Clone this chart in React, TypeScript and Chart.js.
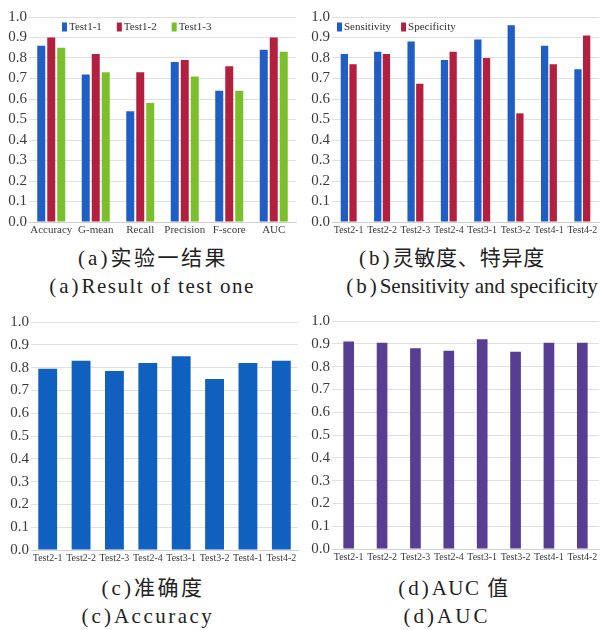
import React, { useEffect, useRef } from "react";
import { Chart, registerables } from "chart.js";

Chart.register(...registerables);

// ---------- data ----------
const metricLabels = ["Accuracy", "G-mean", "Recall", "Precision", "F-score", "AUC"];
const test1_1 = [0.86, 0.72, 0.54, 0.78, 0.64, 0.84];
const test1_2 = [0.9, 0.82, 0.73, 0.79, 0.76, 0.9];
const test1_3 = [0.85, 0.73, 0.58, 0.71, 0.64, 0.83];

const testLabels = ["Test2-1", "Test2-2", "Test2-3", "Test2-4", "Test3-1", "Test3-2", "Test4-1", "Test4-2"];
const sensitivity = [0.82, 0.83, 0.88, 0.79, 0.89, 0.96, 0.86, 0.745];
const specificity = [0.77, 0.82, 0.675, 0.83, 0.8, 0.53, 0.77, 0.91];
const accuracyValues = [0.795, 0.83, 0.785, 0.82, 0.85, 0.75, 0.82, 0.83];
const aucValues = [0.91, 0.905, 0.88, 0.87, 0.92, 0.865, 0.905, 0.905];

const SERIF = '"Liberation Serif", "DejaVu Serif", serif';
const CAPTION_FONT = '"Liberation Serif", "DejaVu Serif", "Noto Sans CJK SC", serif';

function insideLegend(offsetX: number, offsetY: number, gap: number, fontSize: number) {
  return {
    id: "insideLegend",
    afterDraw(chart: any) {
      const ctx = chart.ctx;
      const area = chart.chartArea;
      ctx.save();
      ctx.font = `${fontSize}px ${SERIF}`;
      ctx.textBaseline = "middle";
      ctx.textAlign = "left";
      let x = area.left + offsetX;
      const y = area.top + offsetY;
      chart.data.datasets.forEach((ds: any) => {
        ctx.fillStyle = ds.backgroundColor;
        ctx.fillRect(x, y - 4.5, 5, 9);
        x += 7;
        ctx.fillStyle = "#333";
        ctx.fillText(ds.label, x, y);
        x += ctx.measureText(ds.label).width + gap;
      });
      ctx.restore();
    },
  };
}

type Cfg = {
  labels: string[];
  datasets: any[];
  yWidth: number;
  xHeight: number;
  padTop: number;
  padRight: number;
  catPct: number;
  barPct: number;
  xFont: number;
  legend?: any;
};

function makeConfig(c: Cfg): any {
  return {
    type: "bar",
    data: {
      labels: c.labels,
      datasets: c.datasets.map((d) => ({
        ...d,
        categoryPercentage: c.catPct,
        barPercentage: c.barPct,
        borderWidth: 0,
      })),
    },
    plugins: c.legend ? [c.legend] : [],
    options: {
      animation: false,
      responsive: false,
      devicePixelRatio: 1,
      layout: { padding: { top: c.padTop, right: c.padRight, left: 0, bottom: 0 } },
      plugins: {
        legend: { display: false },
        tooltip: { enabled: false },
        title: { display: false },
      },
      scales: {
        x: {
          ticks: {
            autoSkip: false,
            maxRotation: 0,
            minRotation: 0,
            font: { family: SERIF, size: c.xFont },
            color: "#3a3a3a",
            padding: 2,
          },
          grid: { display: false, drawTicks: false },
          border: { display: true, color: "#d0d0d0" },
          afterFit: (s: any) => {
            s.height = c.xHeight;
          },
        },
        y: {
          min: 0,
          max: 1,
          ticks: {
            stepSize: 0.1,
            autoSkip: false,
            callback: (v: any) => Number(v).toFixed(1),
            font: { family: SERIF, size: 15 },
            color: "#3a3a3a",
            padding: 2,
          },
          grid: { color: "#e0e0e0", drawTicks: false },
          border: { display: false },
          afterFit: (s: any) => {
            s.width = c.yWidth;
          },
        },
      },
    },
  };
}

function ChartCanvas(props: { left: number; top: number; width: number; height: number; config: any }) {
  const ref = useRef<HTMLCanvasElement>(null);
  useEffect(() => {
    const chart = new Chart(ref.current as HTMLCanvasElement, props.config);
    return () => chart.destroy();
  }, []);
  return (
    <canvas
      ref={ref}
      width={props.width}
      height={props.height}
      style={{ position: "absolute", left: props.left, top: props.top, width: props.width, height: props.height }}
    />
  );
}

function Caption(props: { cx: number; cy: number; size: number; tag: string; text: string; spacing: number }) {
  return (
    <div
      style={{
        position: "absolute",
        left: props.cx - 170,
        top: props.cy - 13,
        width: 340,
        height: 26,
        lineHeight: "26px",
        textAlign: "center",
        fontFamily: CAPTION_FONT,
        fontSize: props.size,
        color: "#222",
        whiteSpace: "nowrap",
      }}
    >
      <span style={{ letterSpacing: "3px" }}>{props.tag}</span>
      <span style={{ letterSpacing: `${props.spacing}px` }}>{props.text}</span>
    </div>
  );
}

const BLUE = "#1F5FC5";
const RED = "#B3203F";
const GREEN = "#7BBF2C";

export default function App() {
  const cfgA = makeConfig({
    labels: metricLabels,
    datasets: [
      { label: "Test1-1", data: test1_1, backgroundColor: BLUE },
      { label: "Test1-2", data: test1_2, backgroundColor: RED },
      { label: "Test1-3", data: test1_3, backgroundColor: GREEN },
    ],
    yWidth: 29,
    xHeight: 23,
    padTop: 17,
    padRight: 4,
    catPct: 0.674,
    barPct: 0.8,
    xFont: 11,
    legend: insideLegend(33, 10, 15, 11),
  });
  const cfgB = makeConfig({
    labels: testLabels,
    datasets: [
      { label: "Sensitivity", data: sensitivity, backgroundColor: BLUE },
      { label: "Specificity", data: specificity, backgroundColor: RED },
    ],
    yWidth: 32,
    xHeight: 23,
    padTop: 17,
    padRight: 2,
    catPct: 0.52,
    barPct: 0.84,
    xFont: 10,
    legend: insideLegend(5, 10, 10, 11),
  });
  const cfgC = makeConfig({
    labels: testLabels,
    datasets: [{ label: "Accuracy", data: accuracyValues, backgroundColor: "#1060BF" }],
    yWidth: 31,
    xHeight: 20,
    padTop: 22,
    padRight: 2,
    catPct: 1,
    barPct: 0.565,
    xFont: 10,
  });
  const cfgD = makeConfig({
    labels: testLabels,
    datasets: [{ label: "AUC", data: aucValues, backgroundColor: "#573E92" }],
    yWidth: 32,
    xHeight: 21,
    padTop: 21,
    padRight: 2,
    catPct: 1,
    barPct: 0.32,
    xFont: 10,
  });

  return (
    <div
      style={{
        position: "absolute",
        left: 0,
        top: 0,
        width: 601,
        height: 630,
        background: "#fff",
        overflow: "hidden",
      }}
    >
      <ChartCanvas left={0} top={0} width={300} height={245} config={cfgA} />
      <ChartCanvas left={300} top={0} width={301} height={245} config={cfgB} />
      <ChartCanvas left={0} top={300} width={300} height={270} config={cfgC} />
      <ChartCanvas left={300} top={300} width={301} height={270} config={cfgD} />

      <Caption cx={153} cy={258} size={21} tag="(a)" text="实验一结果" spacing={2.5} />
      <Caption cx={152} cy={286} size={21} tag="(a)" text="Result of test one" spacing={1.5} />
      <Caption cx={452} cy={258} size={21} tag="(b)" text="灵敏度、特异度" spacing={0.8} />
      <Caption cx={472} cy={286} size={21} tag="(b)" text="Sensitivity and specificity" spacing={0} />
      <Caption cx={153} cy={588} size={21} tag="(c)" text="准确度" spacing={2.5} />
      <Caption cx={148} cy={616} size={21} tag="(c)" text="Accuracy" spacing={2.5} />
      <Caption cx={454} cy={588} size={21} tag="(d)" text="AUC 值" spacing={1.5} />
      <Caption cx={447} cy={616} size={21} tag="(d)" text="AUC" spacing={3} />
    </div>
  );
}
